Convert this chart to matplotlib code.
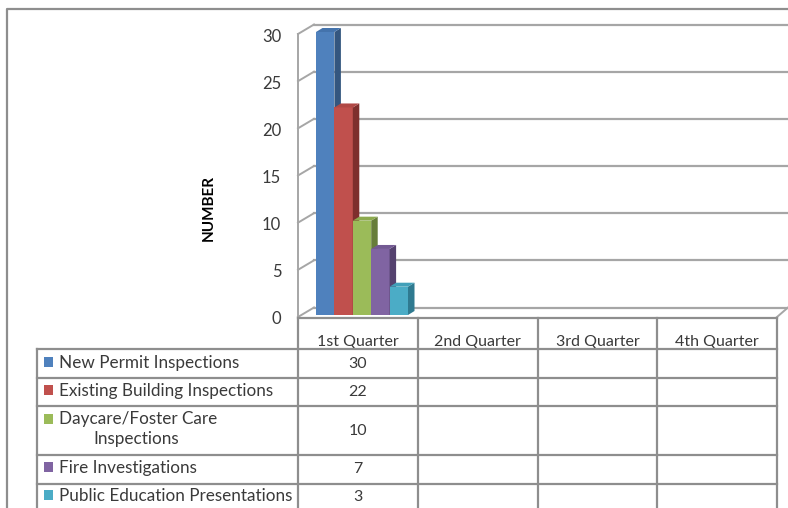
import matplotlib
matplotlib.use("Agg")
import matplotlib.pyplot as plt
from matplotlib.transforms import Affine2D

plt.rcParams['font.family'] = ['Lato', 'DejaVu Sans']

# data
quarters = ["1st Quarter", "2nd Quarter", "3rd Quarter", "4th Quarter"]
series = ["New Permit Inspections", "Existing Building Inspections",
          "Daycare/Foster Care\nInspections", "Fire Investigations",
          "Public Education Presentations"]
values = [30, 22, 10, 7, 3]
yticks = [0, 5, 10, 15, 20, 25, 30]

front = ['#4F81BD', '#C0504D', '#9BBB59', '#8064A2', '#4BACC6']
side = ['#34567F', '#7E2F2D', '#677D3A', '#55426F', '#2F7A90']
top = ['#4473AC', '#B04845', '#8CAA4E', '#735A93', '#42A0B9']

W, H = 788, 508
gridcol = '#A6A6A6'
linecol = '#8E8E8E'
textcol = '#3A3A3A'

fig = plt.figure(figsize=(W/100, H/100), dpi=100)

# main chart, front plane of the 3d box
x0, x1, y0, y1 = 298, 777, 317, 34
ax = fig.add_axes([x0/W, 1-y0/H, (x1-x0)/W, (y0-y1)/H])
ax.set_xlim(0, 4)
ax.set_ylim(0, 30)
ax.patch.set_alpha(0)
px = 4/(x1-x0)
py = 30/(y0-y1)

# back wall and side wall
depth_x, depth_y = 16*px, 9.5*py
right = (W-x0)*px
for t in yticks:
    ax.plot([0, depth_x], [t, t+depth_y], color=gridcol, lw=1.4, clip_on=False, zorder=1)
    ax.plot([depth_x, right], [t+depth_y, t+depth_y], color=gridcol, lw=1.6, clip_on=False, zorder=1)
ax.plot([4, right], [0, depth_y], color=gridcol, lw=1.4, clip_on=False, zorder=1)

# bars with fake depth
bw = 18.4*px
bx = 18*px
by = 2*py
dx, dy = 6.5*px, 4*py
for i, v in enumerate(values):
    left = bx + i*bw
    ax.bar(left, v, bw, bottom=by, align='edge', color=front[i], zorder=3+i, clip_on=False)
    r = left+bw
    ax.fill([r, r+dx, r+dx, r], [by, by+dy, by+v+dy, by+v], color=side[i], lw=0, zorder=3+i, clip_on=False)
    ax.fill([left, left+dx, r+dx, r], [by+v, by+v+dy, by+v+dy, by+v], color=top[i], lw=0, zorder=3+i, clip_on=False)

for s in ['top', 'right']:
    ax.spines[s].set_visible(False)
ax.spines['left'].set_color(gridcol)
ax.spines['left'].set_linewidth(1.4)
ax.spines['bottom'].set_visible(False)
ax.set_yticks(yticks)
ax.tick_params(axis='y', length=0, pad=12, labelsize=12, labelcolor=textcol)
for lab in ax.get_yticklabels():
    lab.set_transform(lab.get_transform() + Affine2D().translate(0, -1))
ax.set_xticks([0.5, 1.5, 2.5, 3.5])
ax.set_xticklabels(quarters, fontsize=11.5, color=textcol)
ax.tick_params(axis='x', length=0, pad=13)
ax.set_ylabel("NUMBER", fontsize=11, fontweight='bold', color='black')
ax.yaxis.set_label_coords((216-x0)/(x1-x0), (y0-208)/(y0-y1))

# overlay in pixels for outer frame and data table
ov = fig.add_axes([0, 0, 1, 1], zorder=5)
ov.set_xlim(0, W)
ov.set_ylim(H, 0)
ov.axis('off')
ov.patch.set_alpha(0)

ov.plot([7, 7, W], [H, 9, 9], color=linecol, lw=1.6)

cols = [298, 418, 538, 657, 777]
rows = [349, 378, 406, 455, 484]
row_text = [363, 391, 430, 468, 496]
ov.plot([cols[0], cols[-1]], [318, 318], color=linecol, lw=1.6)
for c in cols:
    ov.plot([c, c], [318, H], color=linecol, lw=1.6)
ov.plot([37, 37], [rows[0], H], color=linecol, lw=1.6)
for r in rows:
    ov.plot([37, cols[-1]], [r, r], color=linecol, lw=1.6)

for i, name in enumerate(series):
    lines = name.split("\n")
    if len(lines) == 1:
        ov.text(59, row_text[i], name, fontsize=12.3, color=textcol, va='center', ha='left')
        sq = row_text[i]-1
    else:
        ov.text(59, row_text[i]-11, lines[0], fontsize=12.3, color=textcol, va='center', ha='left')
        ov.text(93, row_text[i]+9, lines[1], fontsize=12.3, color=textcol, va='center', ha='left')
        sq = row_text[i]-11
    ov.fill([44, 53.5, 53.5, 44], [sq-5, sq-5, sq+5, sq+5], color=front[i], lw=0)
    ov.text(358, row_text[i]+1, str(values[i]), fontsize=11.5, color=textcol, va='center', ha='center')

fig.savefig("out.png", dpi=100)
